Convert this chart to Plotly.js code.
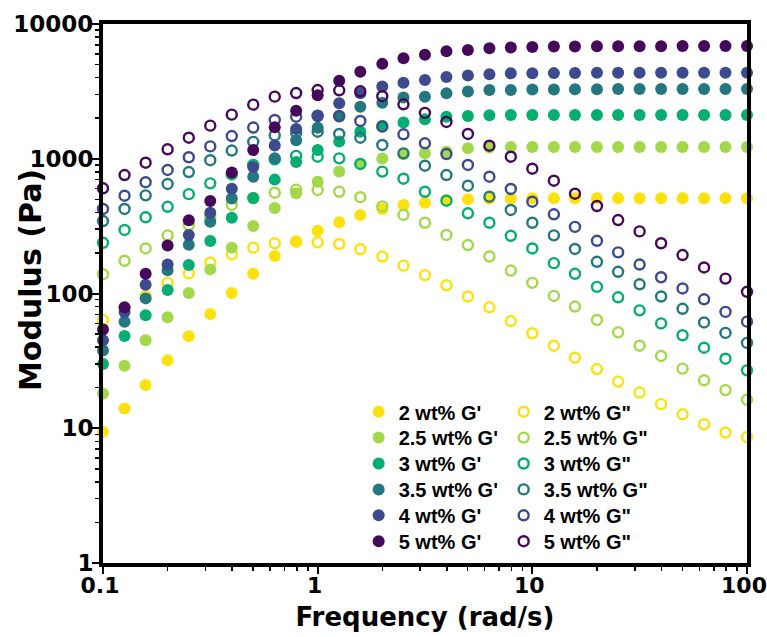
<!DOCTYPE html>
<html>
<head>
<meta charset="utf-8">
<script src="https://cdn.plot.ly/plotly-3.0.1.min.js"></script>
<style>html,body{margin:0;padding:0;background:#fff;}#chart{width:767px;height:637px;}</style>
</head>
<body>
<div id="chart"></div>
<script>
const frequency = [0.1, 0.126, 0.158, 0.2, 0.251, 0.316, 0.398, 0.501, 0.631, 0.794, 1, 1.26, 1.58, 2, 2.51, 3.16, 3.98, 5.01, 6.31, 7.94, 10, 12.6, 15.8, 20, 25.1, 31.6, 39.8, 50.1, 63.1, 79.4, 100];

const g1_2  = [9.4, 14, 20.9, 31.9, 48.1, 70.5, 101, 140, 190, 242, 292, 338, 383, 424, 454, 472, 494, 500, 505, 507, 509, 509, 509, 509, 509, 509, 509, 509, 509, 509, 509];
const g2_2  = [63.6, 78, 95.8, 120, 141, 170, 195, 219, 236, 243, 240, 233, 213, 188, 161, 137, 115, 95, 79, 62.5, 50.7, 41, 33.4, 27.5, 22.2, 18.4, 15.1, 12.7, 10.7, 9.3, 8.6];
const g1_25 = [18, 29.1, 45, 66.6, 101, 151, 219, 317, 431, 554, 676, 805, 915, 1004, 1079, 1097, 1128, 1196, 1210, 1220, 1220, 1220, 1220, 1220, 1220, 1220, 1220, 1220, 1220, 1220, 1220];
const g2_25 = [139, 175, 216, 270, 322, 370, 454, 510, 560, 590, 587, 569, 518, 443, 383, 335, 272, 229, 188, 148, 120, 96, 80, 63.6, 51.5, 41, 34.4, 27.7, 22.7, 19.2, 16.3];
const g1_3  = [30, 48.4, 68.9, 106, 163, 245, 365, 512, 700, 945, 1161, 1340, 1588, 1760, 1860, 1960, 2051, 2076, 2100, 2113, 2113, 2113, 2113, 2113, 2113, 2113, 2113, 2113, 2113, 2113, 2113];
const g2_3  = [238, 296, 368, 440, 546, 657, 767, 899, 990, 1050, 1036, 1007, 915, 803, 711, 569, 488, 394, 335, 268, 216, 168, 140, 112, 93.7, 75, 60, 49, 39.6, 32.8, 26.9];
const g1_35 = [37.7, 61.8, 92, 149, 230, 341, 507, 736, 1007, 1370, 1700, 2060, 2434, 2600, 2850, 2890, 3060, 3160, 3236, 3236, 3260, 3270, 3280, 3280, 3290, 3290, 3290, 3290, 3290, 3290, 3290];
const g2_35 = [345, 424, 535, 650, 797, 975, 1150, 1335, 1490, 1560, 1588, 1527, 1432, 1265, 1097, 888, 757, 631, 523, 417, 335, 270, 214, 172, 145, 117, 95, 77, 61, 51, 43];
const g1_4  = [45, 73, 116, 164, 272, 397, 600, 867, 1255, 1660, 2090, 2580, 3060, 3440, 3670, 3840, 4045, 4140, 4230, 4305, 4305, 4320, 4330, 4340, 4340, 4350, 4350, 4350, 4350, 4350, 4350];
const g2_4  = [424, 532, 670, 826, 1026, 1235, 1475, 1705, 1940, 2051, 2076, 2076, 1906, 1730, 1518, 1303, 1084, 899, 736, 597, 480, 387, 312, 246, 202, 164, 132, 109, 90.6, 73, 61.8];
const g1_5  = [54, 79, 140, 227, 349, 486, 790, 1160, 1711, 2274, 2965, 3790, 4430, 5060, 5560, 5920, 6270, 6413, 6600, 6700, 6750, 6800, 6810, 6830, 6840, 6850, 6850, 6860, 6860, 6860, 6860];
const g2_5  = [604, 757, 935, 1175, 1432, 1760, 2125, 2520, 2890, 3075, 3236, 3220, 3165, 2910, 2535, 2190, 1875, 1527, 1250, 1036, 844, 687, 550, 446, 351, 289, 236, 193, 156, 129, 103];

const concLabels = ['2 wt%', '2.5 wt%', '3 wt%', '3.5 wt%', '4 wt%', '5 wt%'];
const storageSeries = [g1_2, g1_25, g1_3, g1_35, g1_4, g1_5];
const lossSeries = [g2_2, g2_25, g2_3, g2_35, g2_4, g2_5];
const colors = ['#FDE10D', '#A2D84A', '#05AE70', '#23787F', '#3C4A8E', '#46085A'];

const legFont = {family: 'Liberation Sans, Arial', size: 20, color: '#000', weight: 'bold'};
const legendRowY = [411.7, 437.6, 463.5, 489.4, 515.3, 541.2];

const traces = [];
const layoutLegends = {};
for (let i = 0; i < concLabels.length; i++) {
  const key = i === 0 ? 'legend' : 'legend' + (i + 1);
  traces.push({
    x: frequency, y: storageSeries[i], type: 'scatter', mode: 'markers',
    name: concLabels[i] + " G'", legend: key,
    marker: {symbol: 'circle', size: 12, color: colors[i], line: {width: 0}},
    cliponaxis: false
  });
  traces.push({
    x: frequency, y: lossSeries[i], type: 'scatter', mode: 'markers',
    name: concLabels[i] + ' G"', legend: key,
    marker: {symbol: 'circle-open', size: 10, color: colors[i], line: {width: 2.4, color: colors[i]}},
    cliponaxis: false
  });
  layoutLegends[key] = {
    orientation: 'h', x: 0.397, xanchor: 'left',
    y: (563 - legendRowY[i]) / 539, yanchor: 'middle',
    bgcolor: 'rgba(0,0,0,0)', borderwidth: 0, font: legFont,
    itemwidth: 30, entrywidth: 100, entrywidthmode: 'pixels', traceorder: 'normal'
  };
}

const axisCommon = {
  type: 'log', showgrid: false, zeroline: false,
  showline: true, linecolor: '#000', linewidth: 4, mirror: true,
  ticks: 'outside', ticklen: 7, tickwidth: 2, tickcolor: '#000',
  minor: {dtick: 'D1', ticks: 'outside', ticklen: 4, tickwidth: 1.5, tickcolor: '#000', showgrid: false},
  automargin: false, ticklabeloverflow: 'allow'
};

const layout = Object.assign({
  width: 767, height: 637,
  margin: {l: 103, r: 20, t: 24, b: 74},
  paper_bgcolor: '#fff', plot_bgcolor: '#fff',
  showlegend: true,
  xaxis: Object.assign({}, axisCommon, {
    range: [-1, 2], dtick: 1, tick0: 0,
    tickfont: {family: 'DejaVu Sans', size: 22, color: '#000', weight: 'bold'},
    ticklabelstandoff: -7, ticklabelshift: -3,
    title: {text: 'Frequency (rad/s)', font: {family: 'DejaVu Sans', size: 26, color: '#000', weight: 'bold'}, standoff: 11}
  }),
  yaxis: Object.assign({}, axisCommon, {
    range: [0, 4], dtick: 1, tick0: 0, tickformat: 'd',
    tickfont: {family: 'DejaVu Sans', size: 23, color: '#000', weight: 'bold'},
    ticklabelstandoff: -6
  }),
  annotations: [{
    text: 'Modulus (Pa)', xref: 'paper', yref: 'paper', x: (30 - 103) / 644, y: (563 - 280) / 539,
    xanchor: 'center', yanchor: 'middle', textangle: -90, showarrow: false,
    font: {family: 'DejaVu Sans', size: 30, color: '#000', weight: 'bold'}
  }]
}, layoutLegends);

Plotly.newPlot('chart', traces, layout, {displayModeBar: false, staticPlot: true});
</script>
</body>
</html>
